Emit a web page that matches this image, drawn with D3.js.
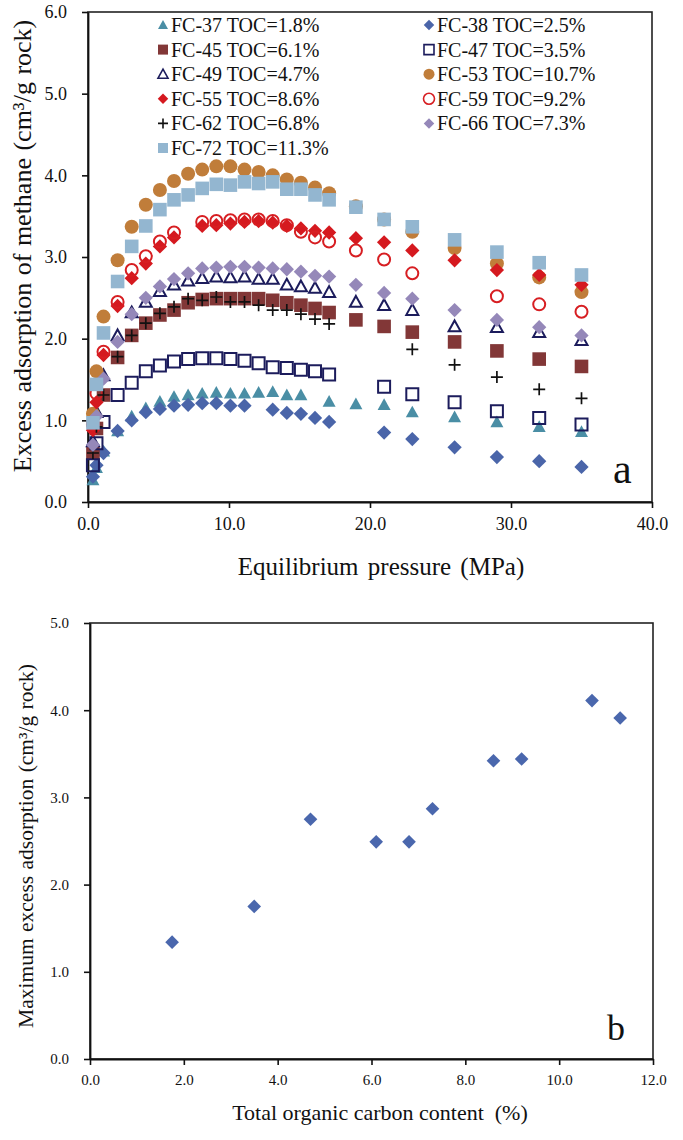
<!DOCTYPE html>
<html>
<head>
<meta charset="utf-8">
<script src="https://cdn.jsdelivr.net/npm/d3@7/dist/d3.min.js"></script>
<style>
  html, body { margin: 0; padding: 0; background: #fff; }
  svg { display: block; }
  svg text { font-family: "Liberation Serif", "Times New Roman", Times, "DejaVu Serif", serif !important; fill: #111; }
</style>
</head>
<body>
<svg id="chart" width="683" height="1140"></svg>
<script>
// pressure steps (MPa) shared by every isotherm
const pressure = [0.35, 0.6, 1.1, 2.1, 3.1, 4.1, 5.1, 6.1, 7.1, 8.1, 9.1, 10.1, 11.1, 12.1, 13.1, 14.1, 15.1, 16.1, 17.1, 19, 21, 23, 26, 29, 32, 35];

// excess adsorption (cm3/g rock), null = no measurement
const fc37 = [0.27, 0.42, 0.62, 0.87, 1.05, 1.15, 1.23, 1.29, 1.31, 1.33, 1.34, 1.33, 1.33, 1.34, 1.35, 1.31, 1.31, null, 1.23, 1.20, 1.19, 1.10, 1.04, 0.98, 0.92, 0.86];
const fc38 = [0.31, 0.45, 0.60, 0.87, 1.00, 1.10, 1.14, 1.18, 1.19, 1.21, 1.21, 1.18, 1.18, null, 1.13, 1.09, 1.08, 1.03, 0.98, null, 0.85, 0.77, 0.67, 0.55, 0.50, 0.43];
const fc45 = [0.60, 0.90, 1.31, 1.77, 2.04, 2.19, 2.29, 2.35, 2.44, 2.48, 2.49, 2.49, 2.49, 2.49, 2.47, 2.44, 2.41, 2.37, 2.32, 2.23, 2.15, 2.08, 1.96, 1.85, 1.75, 1.66];
const fc47 = [0.45, 0.72, 0.98, 1.31, 1.46, 1.60, 1.67, 1.72, 1.75, 1.76, 1.76, 1.75, 1.73, 1.70, 1.65, 1.64, 1.62, 1.60, 1.56, null, 1.41, 1.32, 1.22, 1.11, 1.03, 0.95];
const fc49 = [0.74, 1.10, 1.55, 2.04, 2.32, 2.45, 2.58, 2.66, 2.71, 2.74, 2.76, 2.75, 2.76, 2.73, 2.73, 2.66, 2.64, 2.62, 2.57, 2.45, 2.41, 2.35, 2.15, 2.14, 2.08, 1.98];
const fc53 = [1.08, 1.60, 2.27, 2.96, 3.37, 3.64, 3.82, 3.93, 4.02, 4.07, 4.11, 4.11, 4.07, 4.04, 4.00, 3.95, 3.91, 3.85, 3.78, 3.62, 3.46, 3.31, 3.11, 2.92, 2.75, 2.57];
const fc55 = [0.88, 1.22, 1.80, 2.40, 2.74, 2.92, 3.13, 3.24, null, 3.38, 3.39, 3.41, 3.43, 3.44, 3.42, 3.38, 3.35, 3.32, 3.30, 3.23, 3.18, 3.08, 2.96, 2.84, 2.78, 2.66];
const fc59 = [0.95, 1.33, 1.84, 2.45, 2.84, 3.01, 3.19, 3.30, null, 3.43, 3.44, 3.45, 3.46, 3.46, 3.44, 3.39, 3.31, 3.24, 3.19, 3.08, 2.97, 2.80, null, 2.52, 2.42, 2.33];
const fc62 = [0.60, 0.92, 1.31, 1.78, 2.04, 2.19, 2.31, 2.39, 2.49, 2.47, 2.51, 2.45, 2.45, 2.41, 2.35, 2.35, 2.30, 2.24, 2.18, null, null, 1.87, 1.68, 1.53, 1.38, 1.27];
const fc66 = [0.70, 1.05, 1.51, 1.96, 2.30, 2.50, 2.64, 2.73, 2.80, 2.86, 2.87, 2.88, 2.88, 2.87, 2.86, 2.85, 2.82, 2.77, 2.76, 2.66, 2.56, 2.49, 2.35, 2.23, 2.14, 2.04];
const fc72 = [0.97, 1.44, 2.07, 2.70, 3.13, 3.38, 3.58, 3.70, 3.76, 3.84, 3.89, 3.88, 3.92, 3.90, 3.92, 3.83, 3.83, 3.76, 3.70, 3.61, 3.46, 3.37, 3.21, 3.06, 2.93, 2.78];

const sampleNames = ["FC-37", "FC-38", "FC-45", "FC-47", "FC-49", "FC-53", "FC-55", "FC-59", "FC-62", "FC-66", "FC-72"];
const sampleToc = ["1.8", "2.5", "6.1", "3.5", "4.7", "10.7", "8.6", "9.2", "6.8", "7.3", "11.3"];

// panel b
const tocContent = [1.75, 3.5, 4.7, 6.1, 6.8, 7.3, 8.6, 9.2, 10.7, 11.3];
const maxAdsorption = [1.34, 1.75, 2.75, 2.49, 2.49, 2.87, 3.42, 3.44, 4.11, 3.91];

const xTicksA = [0, 10, 20, 30, 40];
const yTicksA = [0, 1, 2, 3, 4, 5, 6];
const xTicksB = [0, 2, 4, 6, 8, 10, 12];
const yTicksB = [0, 1, 2, 3, 4, 5];

const SERIF = '"Liberation Serif", "Times New Roman", "DejaVu Serif", serif';

const seriesValues = [fc37, fc38, fc45, fc47, fc49, fc53, fc55, fc59, fc62, fc66, fc72];
const styles = [
	{ shape: "triangle", fill: "#4a8ea5", stroke: "none" },
	{ shape: "diamond", fill: "#4a65a9", stroke: "none" },
	{ shape: "square", fill: "#823737", stroke: "none" },
	{ shape: "square", fill: "none", stroke: "#1c1c5c" },
	{ shape: "triangle", fill: "none", stroke: "#1c1c5c" },
	{ shape: "circle", fill: "#c07d3a", stroke: "none" },
	{ shape: "diamond", fill: "#d5191f", stroke: "none" },
	{ shape: "circle", fill: "none", stroke: "#d71e22" },
	{ shape: "plus", fill: "none", stroke: "#111" },
	{ shape: "diamond", fill: "#9588b9", stroke: "none" },
	{ shape: "square", fill: "#93b6d0", stroke: "none" },
];

function shapePath(shape, s) {
	switch (shape) {
		case "square":
			return `M${-s},${-s}H${s}V${s}H${-s}Z`;
		case "diamond":
			return `M0,${-s * 1.05}L${s * 1.05},0L0,${s * 1.05}L${-s * 1.05},0Z`;
		case "triangle":
			return `M0,${-s}L${s},${s * 0.8}L${-s},${s * 0.8}Z`;
		case "circle":
			return `M${s},0A${s},${s} 0 1,1 ${-s},0A${s},${s} 0 1,1 ${s},0Z`;
		case "plus":
			return `M${-s},0H${s}M0,${-s}V${s}`;
	}
}

function markerSize(shape, open) {
	if (shape === "plus") return 6;
	if (shape === "circle") return open ? 6 : 7;
	if (shape === "diamond") return 6.8;
	if (shape === "triangle") return open ? 6 : 6.5;
	return open ? 6 : 6.8;
}

const svg = d3.select("#chart").attr("font-family", SERIF);

function frame(g, x, y, xTicks, yTicks, fontSize, pad) {
	const [x0, x1] = x.range();
	const [y0, y1] = y.range();
	g.append("rect")
		.attr("x", x0).attr("y", y1)
		.attr("width", x1 - x0).attr("height", y0 - y1)
		.attr("fill", "none").attr("stroke", "#222").attr("stroke-width", 1.6);

	const xAxis = g.append("g")
		.attr("transform", `translate(0,${y0})`)
		.call(d3.axisBottom(x).tickValues(xTicks).tickFormat(d3.format(".1f")).tickSize(6).tickSizeOuter(0).tickPadding(pad[0]));
	const yAxis = g.append("g")
		.attr("transform", `translate(${x0},0)`)
		.call(d3.axisLeft(y).tickValues(yTicks).tickFormat(d3.format(".1f")).tickSize(6).tickSizeOuter(0).tickPadding(pad[1]));
	for (const ax of [xAxis, yAxis]) {
		ax.attr("font-family", SERIF);
		ax.select(".domain").attr("stroke", "#111").attr("stroke-width", 1.8);
		ax.selectAll(".tick line").attr("stroke", "#111").attr("stroke-width", 1.6);
		ax.selectAll(".tick text").attr("font-size", fontSize).attr("font-family", SERIF);
	}
}

// ---------- panel a ----------
const xA = d3.scaleLinear([0, 40], [88, 652]);
const yA = d3.scaleLinear([0, 6], [502, 12]);
const gA = svg.append("g");
frame(gA, xA, yA, xTicksA, yTicksA, 18, [9, 15]);

seriesValues.forEach((vals, i) => {
	const st = styles[i];
	const open = st.fill === "none";
	const pts = vals
		.map((v, j) => ({ p: pressure[j], v }))
		.filter(d => d.v !== null);
	gA.append("g")
		.selectAll("path")
		.data(pts)
		.join("path")
		.attr("transform", d => `translate(${xA(d.p)},${yA(d.v)})`)
		.attr("d", shapePath(st.shape, markerSize(st.shape, open)))
		.attr("fill", st.fill)
		.attr("stroke", st.stroke)
		.attr("stroke-width", st.shape === "plus" ? 1.7 : 2);
});

// legend, two columns
const legend = gA.append("g");
sampleNames.forEach((name, i) => {
	const st = styles[i];
	const col = i % 2;
	const row = Math.floor(i / 2);
	const lx = col === 0 ? 163 : 429;
	const ly = 25 + row * 24.6;
	legend.append("path")
		.attr("transform", `translate(${lx},${ly})`)
		.attr("d", shapePath(st.shape, st.shape === "circle" ? 5.5 : 5))
		.attr("fill", st.fill)
		.attr("stroke", st.stroke)
		.attr("stroke-width", 1.6);
	legend.append("text")
		.attr("x", lx + 8)
		.attr("y", ly + 7)
		.attr("font-size", 20)
		.text(`${name} TOC=${sampleToc[i]}%`);
});

gA.append("text")
	.attr("x", 381).attr("y", 575)
	.attr("text-anchor", "middle")
	.attr("font-size", 25)
	.attr("word-spacing", 3)
	.text("Equilibrium pressure (MPa)");

gA.append("text")
	.attr("transform", "translate(31,246) rotate(-90)")
	.attr("text-anchor", "middle")
	.attr("font-size", 26)
	.attr("word-spacing", 1)
	.text("Excess adsorption of methane (cm³/g rock)");

gA.append("text")
	.attr("x", 613).attr("y", 483)
	.attr("font-size", 42)
	.text("a");

// ---------- panel b ----------
const xB = d3.scaleLinear([0, 12], [90, 653]);
const yB = d3.scaleLinear([0, 5], [1059, 623]);
const gB = svg.append("g");
frame(gB, xB, yB, xTicksB, yTicksB, 15, [9, 15]);

gB.append("g")
	.selectAll("path")
	.data(tocContent.map((t, i) => ({ t, v: maxAdsorption[i] })))
	.join("path")
	.attr("transform", d => `translate(${xB(d.t)},${yB(d.v)})`)
	.attr("d", shapePath("diamond", 6.5))
	.attr("fill", "#4a67ad");

gB.append("text")
	.attr("x", 380).attr("y", 1120)
	.attr("text-anchor", "middle")
	.attr("font-size", 22)
	.attr("xml:space", "preserve")
	.style("white-space", "pre")
	.text("Total organic carbon content  (%)");

gB.append("text")
	.attr("transform", "translate(33,846) rotate(-90)")
	.attr("text-anchor", "middle")
	.attr("font-size", 21.5)
	.attr("word-spacing", 1)
	.text("Maximum excess adsorption (cm³/g rock)");

gB.append("text")
	.attr("x", 607).attr("y", 1040)
	.attr("font-size", 36)
	.text("b");
</script>
</body>
</html>
